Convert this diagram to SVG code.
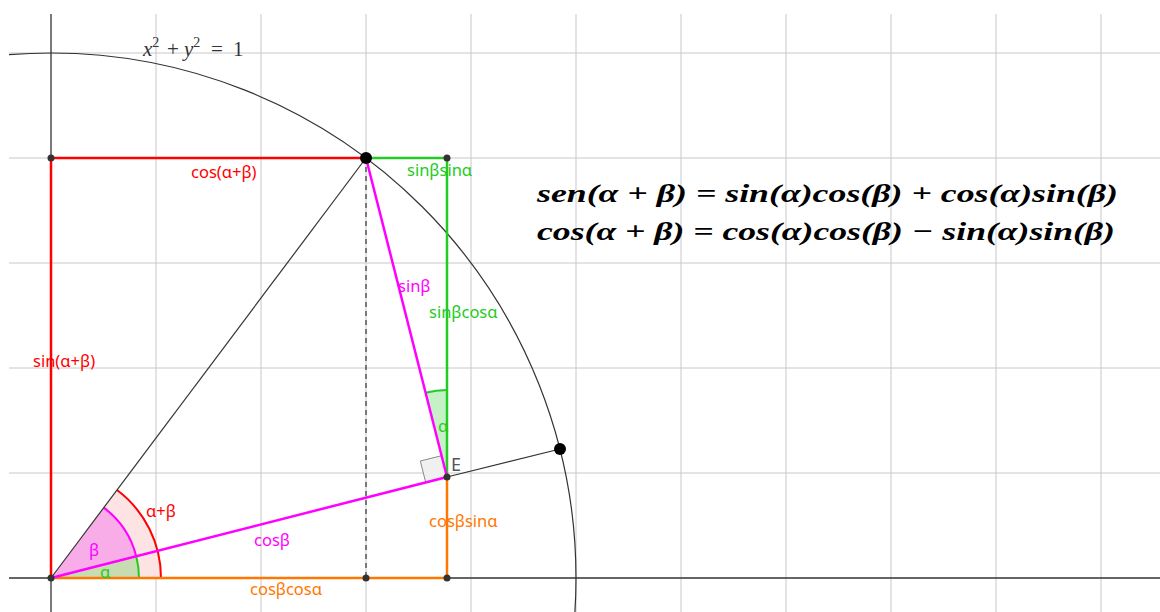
<svg xmlns="http://www.w3.org/2000/svg" width="1160" height="612" viewBox="0 0 1160 612">
<defs>
<clipPath id="view"><rect x="9" y="14" width="1151" height="598"/></clipPath>
<style>
.grid{stroke:#c8c8c8;stroke-width:1;fill:none}
.axis{stroke:#333;stroke-width:1.3;fill:none}
.thin{stroke:#333;stroke-width:1.2;fill:none}
.seg{stroke-width:2.5;fill:none;stroke-linejoin:miter}
.lbl{font-family:"Noto Sans","Open Sans",sans-serif;font-size:16.5px}
.math{font-family:"Liberation Serif",serif;font-style:italic;font-weight:bold;font-size:26px;fill:#000}
.red{fill:#ff0000}.grn{fill:#22cc22}.mag{fill:#ff00ff}.org{fill:#ff7700}
.pt{fill:#333}.bpt{fill:#000}
</style>
</defs>
<rect width="1160" height="612" fill="#fff"/>
<g id="grid" clip-path="url(#view)">
<path class="grid" d="M156,14V612M261,14V612M366,14V612M471,14V612M576,14V612M681,14V612M786,14V612M891,14V612M996,14V612M1101,14V612M9,53H1160M9,158H1160M9,263H1160M9,368H1160M9,473H1160"/>
<path class="axis" d="M51,14V612M9,578H1160"/>
<circle class="thin" cx="51" cy="578" r="525"/>
</g>
<g id="angles">
<path d="M51,578 L161,578 A110,110 0 0 0 117,490 Z" fill="#fde3e3"/>
<path d="M161,578 A110,110 0 0 0 117,490" stroke="#ff0000" stroke-width="2" fill="none"/>
<path d="M51,578 L136.3,556.4 A88,88 0 0 0 103.8,507.6 Z" fill="#f8ade9"/>
<path d="M136.3,556.4 A88,88 0 0 0 103.8,507.6" stroke="#ff00ff" stroke-width="2" fill="none"/>
<path d="M51,578 L139,578 A88,88 0 0 0 136.3,556.4 Z" fill="#c8dcb2"/>
<path d="M139,578 A88,88 0 0 0 136.3,556.4" stroke="#22cc22" stroke-width="2" fill="none"/>
<path d="M447,477 L447,390 A87,87 0 0 0 425.6,392.7 Z" fill="#c6f0c6"/>
<path d="M447,390 A87,87 0 0 0 425.6,392.7" stroke="#22cc22" stroke-width="2" fill="none"/>
<path d="M447,477 L425.7,482.4 L420.3,461 L441.6,455.7 Z" fill="#f0f0f0" stroke="#888" stroke-width="1"/>
</g>
<g id="connectors">
<path class="thin" d="M51,578 L366,158"/>
<path class="thin" d="M447,477 L560,449"/>
<path class="thin" d="M366,158 V578" stroke="#222" stroke-dasharray="5,4"/>
<path class="seg" stroke="#ff0000" d="M51,578 V158 H366"/>
<path class="seg" stroke="#22cc22" d="M366,158 H447 V477"/>
<path class="seg" stroke="#ff7700" d="M51,578 H447 V477"/>
<path class="seg" stroke="#ff00ff" d="M51,578 L447,477 L366,158"/>
</g>
<g id="points">
<circle class="pt" cx="51" cy="158" r="3.5"/>
<circle class="pt" cx="447" cy="158" r="3.5"/>
<circle class="pt" cx="447" cy="477" r="3.5"/>
<circle class="pt" cx="366" cy="578" r="3.5"/>
<circle class="pt" cx="447" cy="578" r="3.5"/>
<circle class="pt" cx="51" cy="578" r="3.5"/>
<circle class="bpt" cx="366" cy="158" r="6"/>
<circle class="bpt" cx="560" cy="449" r="6"/>
</g>
<g id="labels">
<text x="143" y="56" font-family="Liberation Serif,serif" font-size="21" fill="#333"><tspan font-style="italic">x</tspan><tspan font-size="14" dy="-9">2</tspan><tspan x="167" dy="9">+</tspan><tspan x="184" font-style="italic">y</tspan><tspan font-size="14" dy="-9">2</tspan><tspan x="211" dy="9">=</tspan><tspan x="233">1</tspan></text>
<text class="lbl red" x="191" y="178">cos(α+β)</text>
<text class="lbl grn" x="407" y="176">sinβsinα</text>
<text class="lbl red" x="33" y="367">sin(α+β)</text>
<text class="lbl mag" x="398" y="292">sinβ</text>
<text class="lbl grn" x="429" y="318">sinβcosα</text>
<text class="lbl grn" x="438" y="432">α</text>
<text x="451" y="471" font-family="Noto Sans,sans-serif" font-size="18" fill="#555">E</text>
<text class="lbl red" x="146" y="517">α+β</text>
<text class="lbl mag" x="89" y="556">β</text>
<text class="lbl grn" x="100" y="578">α</text>
<text class="lbl mag" x="254" y="546">cosβ</text>
<text class="lbl org" x="429" y="527">cosβsinα</text>
<text class="lbl org" x="250" y="595">cosβcosα</text>
<text class="math" x="537" y="202" textLength="581" lengthAdjust="spacingAndGlyphs">sen(α + β) = sin(α)cos(β) + cos(α)sin(β)</text>
<text class="math" x="537" y="240" textLength="578" lengthAdjust="spacingAndGlyphs">cos(α + β) = cos(α)cos(β) − sin(α)sin(β)</text>
</g>
</svg>
